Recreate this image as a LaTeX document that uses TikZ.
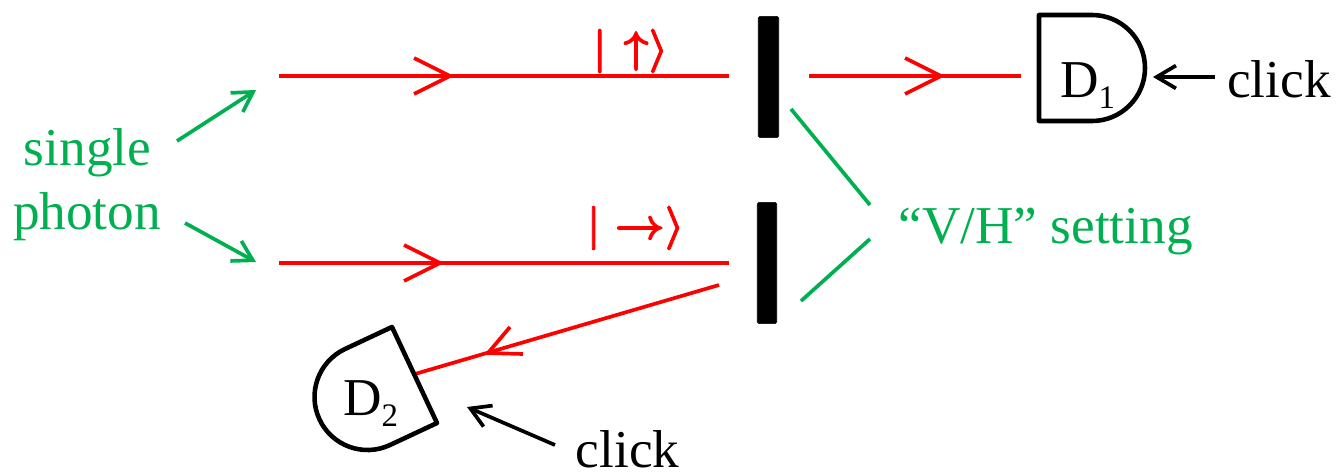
\documentclass[tikz,border=0pt]{standalone}
\usepackage{amsmath,amssymb}
\usepackage{fontspec}
\setmainfont{Liberation Serif}
\usepackage{tikz}
\usetikzlibrary{arrows.meta}

\definecolor{labelgreen}{HTML}{00B050}

\newcommand{\detsub}[1]{\raisebox{-6.8pt}{\fontsize{18.7}{18.7}\selectfont #1}}
\newcommand{\fatket}[1]{\special{pdf:code 2 Tr 0.55 w}#1\special{pdf:code 0 Tr}}

\tikzset{
  beam/.style={draw=red,line width=2.1pt,line join=miter},
  plate/.style={draw=black,fill=black,rounded corners=1pt,inner sep=0pt,
                minimum width=11.6pt,minimum height=69pt},
  detector/.style={draw=black,line width=2.6pt,line join=round},
  pointer/.style={line width=2.1pt,-{Straight Barb[length=11pt,width=13pt,line width=2.1pt]}},
  guide/.style={draw=labelgreen,line width=2.1pt},
  textlabel/.style={font=\fontsize{30.3}{30.3}\selectfont,anchor=base,inner sep=0pt},
  ketlabel/.style={text=red,font=\fontsize{28.5}{28.5}\selectfont,inner sep=0pt}
}

\begin{document}
\begin{tikzpicture}[x=0.2mm,y=-0.2mm]
  \useasboundingbox (0,0) rectangle (1338,474);

  % polarisers
  \node[plate] (plateA) at (768.5,77) {};
  \node[plate,minimum width=11pt] (plateB) at (767,263) {};

  % beam ends
  \coordinate (inA) at (279,76);
  \coordinate (outA) at (729,76);
  \coordinate (inB) at (279,263);
  \coordinate (outB) at (729,263);
  \coordinate (passA) at (809,76);
  \coordinate (hitA) at (1021,76);
  \coordinate (passB) at (719,285);
  \coordinate (hitB) at (415,374);

  % beams
  \draw[beam] (inA) -- (outA);
  \draw[beam] (inB) -- (outB);
  \draw[beam] (passA) -- (hitA);
  \draw[beam] (passB) -- (hitB);

  % chevrons on the beams
  \foreach \x/\y in {450/76, 440/263, 941/76} {
    \draw[beam] (\x-36,\y-18) -- (\x,\y) -- (\x-36,\y+18);
  }
  \draw[beam] (510,327) -- (488,353) -- (523,354);

  % kets
  \node[ketlabel] (ketup) at (630.5,51) {\fatket{$\boldsymbol{\vert\;\mkern1mu{\uparrow}\rangle}$}};
  \node[ketlabel] (ketright) at (635.5,228) {\fatket{$\boldsymbol{\vert\;{\rightarrow}\rangle}$}};

  % detectors
  \draw[detector] (1039,15) -- (1092,15) arc[start angle=-90,end angle=90,radius=53]
    -- (1039,121) -- cycle;
  \draw[detector] (437,423) -- (390,445) arc[start angle=64.9,end angle=244.9,radius=53]
    -- (392,327) -- cycle;
  \node[textlabel] (detA) at (1087.5,97) {D\detsub{1}};
  \node[textlabel] (detB) at (370.5,415) {D\detsub{2}};

  % clicks
  \node[textlabel] (clickA) at (1279,97) {click};
  \node[textlabel] (clickB) at (627.5,467) {click};
  \coordinate (clickAfrom) at (1215,77);
  \coordinate (clickAto) at (1153,77);
  \coordinate (clickBfrom) at (555,445);
  \coordinate (clickBto) at (467,407);
  \draw[pointer] (clickAfrom) -- (clickAto);
  \draw[pointer] (clickBfrom) -- (clickBto);

  % source
  \node[textlabel,text=labelgreen] (single) at (87.5,165) {single};
  \node[textlabel,text=labelgreen] (photon) at (87,229) {photon};
  \coordinate (upfrom) at (177,141);
  \coordinate (upto) at (256,90);
  \coordinate (downfrom) at (185,223);
  \coordinate (downto) at (256,262);
  \draw[pointer,labelgreen] (upfrom) -- (upto);
  \draw[pointer,labelgreen] (downfrom) -- (downto);

  % setting
  \node[textlabel,text=labelgreen] (setting) at (1045.5,243) {“V/H” setting};
  \coordinate (settingup) at (870,205);
  \coordinate (settingdown) at (870,239);
  \coordinate (plateAside) at (791,109);
  \coordinate (plateBside) at (801,301);
  \draw[guide] (plateAside) -- (settingup);
  \draw[guide] (plateBside) -- (settingdown);

\end{tikzpicture}
\end{document}
